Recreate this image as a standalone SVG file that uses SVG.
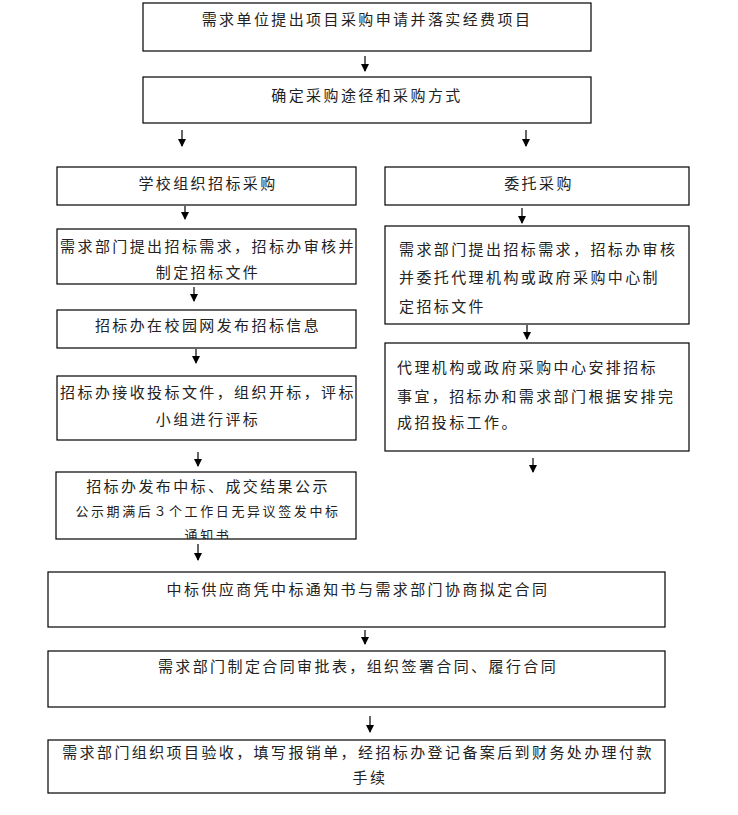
<svg xmlns="http://www.w3.org/2000/svg" width="738" height="815" viewBox="0 0 738 815">
<style>
.b{fill:#fff;stroke:#000;stroke-width:1.2}
.t{font-family:"Liberation Serif","Noto Sans CJK SC",serif;font-size:15px;letter-spacing:2.4px;fill:#222}
.c{text-anchor:middle}
.s{font-size:13px;letter-spacing:2.6px}
.a{stroke:#000;stroke-width:1.2;fill:none;marker-end:url(#ah)}
</style>
<defs>
<marker id="ah" markerWidth="8" markerHeight="8" refX="7" refY="4" orient="auto" markerUnits="userSpaceOnUse" viewBox="0 0 8 8">
<path d="M0,0 L8,4 L0,8 Z" fill="#000"/>
</marker>
<clipPath id="cp5"><rect x="56" y="472" width="300" height="67"/></clipPath>
</defs>
<rect width="738" height="815" fill="#fff"/>
<g id="connectors">
<line class="a" x1="365" y1="56" x2="365" y2="71"/>
<line class="a" x1="182" y1="130" x2="182" y2="146"/>
<line class="a" x1="526" y1="130" x2="526" y2="146"/>
<line class="a" x1="185" y1="206" x2="185" y2="219"/>
<line class="a" x1="194" y1="287" x2="194" y2="301"/>
<line class="a" x1="196" y1="349" x2="196" y2="363"/>
<line class="a" x1="198" y1="452" x2="198" y2="466"/>
<line class="a" x1="198" y1="544" x2="198" y2="560"/>
<line class="a" x1="522" y1="208" x2="522" y2="223"/>
<line class="a" x1="527" y1="325" x2="527" y2="339"/>
<line class="a" x1="533" y1="458" x2="533" y2="472"/>
<line class="a" x1="365" y1="630" x2="365" y2="644"/>
<line class="a" x1="370" y1="716" x2="370" y2="732"/>
</g>
<g id="n1"><rect class="b" x="143" y="3" width="448" height="48"/><text class="t c" x="367" y="25">需求单位提出项目采购申请并落实经费项目</text></g>
<g id="n2"><rect class="b" x="143" y="77" width="448" height="46"/><text class="t c" x="367" y="101">确定采购途径和采购方式</text></g>
<g id="n3"><rect class="b" x="57" y="167" width="299" height="38"/><text class="t c" x="208" y="189">学校组织招标采购</text></g>
<g id="n4"><rect class="b" x="57" y="229" width="299" height="55"/><text class="t c" x="208" y="252">需求部门提出招标需求，招标办审核并</text><text class="t c" x="208" y="278">制定招标文件</text></g>
<g id="n5"><rect class="b" x="57" y="310" width="299" height="38"/><text class="t c" x="208" y="331">招标办在校园网发布招标信息</text></g>
<g id="n6"><rect class="b" x="57" y="376" width="299" height="64"/><text class="t c" x="208" y="398">招标办接收投标文件，组织开标，评标</text><text class="t c" x="208" y="425">小组进行评标</text></g>
<g id="n7"><rect class="b" x="56" y="472" width="300" height="67"/><g clip-path="url(#cp5)"><text class="t c" x="208" y="492">招标办发布中标、成交结果公示</text><text class="t c s" x="208" y="516">公示期满后３个工作日无异议签发中标</text><text class="t c s" x="208" y="540">通知书</text></g></g>
<g id="n8"><rect class="b" x="385" y="167" width="304" height="38"/><text class="t c" x="539" y="189">委托采购</text></g>
<g id="n9"><rect class="b" x="385" y="226" width="304" height="98"/><text class="t" x="399" y="255">需求部门提出招标需求，招标办审核</text><text class="t" x="399" y="283">并委托代理机构或政府采购中心制</text><text class="t" x="399" y="312">定招标文件</text></g>
<g id="n10"><rect class="b" x="385" y="343" width="304" height="108"/><text class="t" x="397" y="373">代理机构或政府采购中心安排招标</text><text class="t" x="397" y="402">事宜，招标办和需求部门根据安排完</text><text class="t" x="397" y="428">成招投标工作。</text></g>
<g id="n11"><rect class="b" x="48" y="572" width="617" height="55"/><text class="t c" x="358" y="595">中标供应商凭中标通知书与需求部门协商拟定合同</text></g>
<g id="n12"><rect class="b" x="48" y="651" width="617" height="56"/><text class="t c" x="358" y="672">需求部门制定合同审批表，组织签署合同、履行合同</text></g>
<g id="n13"><rect class="b" x="48" y="740" width="617" height="53"/><text class="t c" x="358" y="758">需求部门组织项目验收，填写报销单，经招标办登记备案后到财务处办理付款</text><text class="t c" x="370" y="783">手续</text></g>
</svg>
